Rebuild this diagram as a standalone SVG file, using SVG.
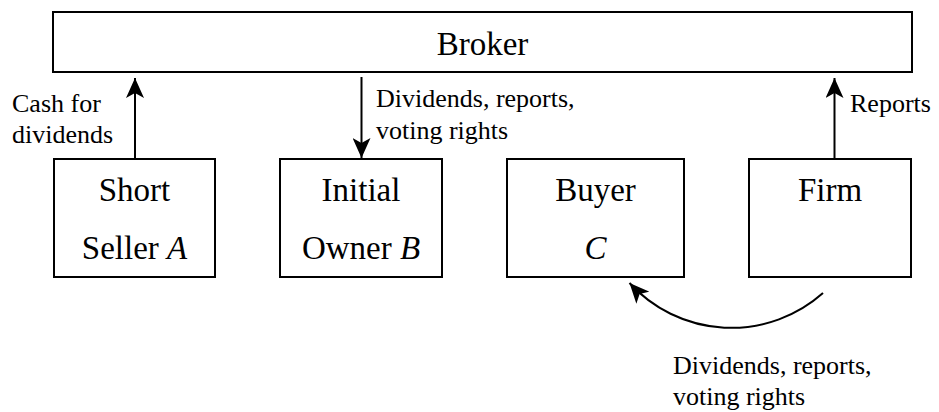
<svg xmlns="http://www.w3.org/2000/svg" width="939" height="412" viewBox="0 0 939 412">
  <style>
    text { font-family: 'Liberation Serif', 'Times New Roman', 'DejaVu Serif', serif; fill: #000000; }
    .box { fill: #ffffff; stroke: #000000; stroke-width: 2; }
    .lbl { font-size: 33px; text-anchor: middle; }
    .note { font-size: 26px; }
    .it { font-style: italic; }
    .edge { fill: none; stroke: #000000; stroke-width: 2; }
  </style>
  <defs>
    <!-- barbed arrowhead shared by all flows -->
    <marker id="arrow" markerUnits="userSpaceOnUse" viewBox="0 0 20 18" refX="20" refY="9" markerWidth="20" markerHeight="18" orient="auto">
      <path d="M0,0 L20,9 L0,18 L5,9 Z" fill="#000000"/>
    </marker>
  </defs>
  <rect width="939" height="412" fill="#ffffff"/>

  <g id="broker">
    <rect class="box" x="53" y="12" width="859" height="60"/>
    <text class="lbl" x="482.5" y="55">Broker</text>
  </g>

  <g id="short-seller">
    <rect class="box" x="54" y="159" width="161" height="118"/>
    <text class="lbl" x="134.5" y="201">Short</text>
    <text class="lbl" x="134.5" y="259">Seller <tspan class="it">A</tspan></text>
  </g>

  <g id="initial-owner">
    <rect class="box" x="280" y="159" width="162" height="118"/>
    <text class="lbl" x="361" y="201">Initial</text>
    <text class="lbl" x="361" y="259">Owner <tspan class="it">B</tspan></text>
  </g>

  <g id="buyer">
    <rect class="box" x="507" y="159" width="177" height="118"/>
    <text class="lbl" x="595.5" y="201">Buyer</text>
    <text class="lbl it" x="595.5" y="259">C</text>
  </g>

  <g id="firm">
    <rect class="box" x="749" y="159" width="162" height="118"/>
    <text class="lbl" x="830" y="201">Firm</text>
  </g>

  <g id="connectors">
    <line class="edge" x1="135" y1="159" x2="135" y2="78" marker-end="url(#arrow)"/>
    <line class="edge" x1="361.5" y1="77" x2="361.5" y2="158" marker-end="url(#arrow)"/>
    <line class="edge" x1="834.5" y1="159" x2="834.5" y2="78" marker-end="url(#arrow)"/>
    <!-- firm to buyer, arcing under the boxes -->
    <path class="edge" d="M823,293 A138,138 0 0 1 629.5,283" marker-end="url(#arrow)"/>
  </g>

  <g id="labels">
    <text class="note" x="12" y="112">Cash for</text>
    <text class="note" x="12" y="143">dividends</text>
    <text class="note" x="376" y="107">Dividends, reports,</text>
    <text class="note" x="376" y="139">voting rights</text>
    <text class="note" x="850" y="112">Reports</text>
    <text class="note" x="673" y="374">Dividends, reports,</text>
    <text class="note" x="673" y="405">voting rights</text>
  </g>
</svg>
